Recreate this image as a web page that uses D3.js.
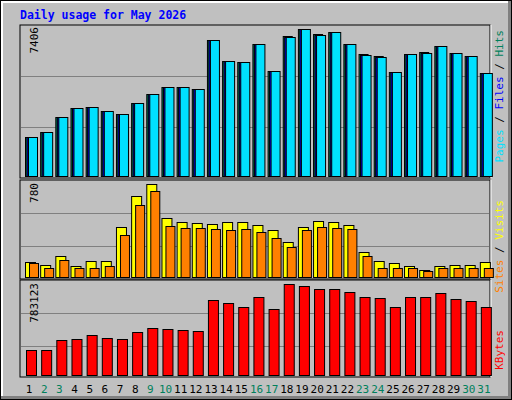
<!DOCTYPE html>
<html><head><meta charset="utf-8">
<script src="https://cdn.jsdelivr.net/npm/d3@7"></script>
<style>body{margin:0;background:#fff}</style></head>
<body><svg id="c" width="512" height="400"></svg>
<script>
const days = d3.range(1,32);
const weekend = [2,3,9,10,16,17,23,24,30,31];
const hits  = [2000,2229,3000,3460,3519,3310,3133,3686,4160,4491,4491,4390,6853,5797,5747,6652,5295,7040,7406,7150,7255,6652,6140,6040,5245,6149,6240,6551,6200,6049,5194];
const files = [1990,2229,2990,3445,3519,3300,3133,3686,4150,4491,4491,4390,6853,5797,5747,6652,5295,7025,7406,7130,7255,6652,6120,6020,5245,6149,6220,6551,6200,6049,5194];
const pages = [1977,2229,2983,3435,3519,3284,3133,3686,4139,4491,4491,4390,6853,5797,5747,6652,5295,7004,7406,7104,7255,6652,6099,5999,5245,6149,6200,6551,6200,6049,5194];
const sites = [130,104,180,96,138,138,425,679,780,501,467,459,451,467,467,442,400,298,425,476,467,442,214,138,121,96,70,96,104,104,130];
const visits= [121,79,146,79,87,96,358,603,721,434,417,417,408,400,408,383,332,256,400,425,417,408,180,87,87,79,62,79,79,87,87];
const kbytes= [217220,217220,302963,311538,345836,320113,311538,371560,405857,397283,388708,380134,645940,620216,585918,671663,568769,783123,765975,740252,740252,714529,671663,663088,585918,671663,671663,705955,654514,637365,585918];
const maxHits = 7406, maxSites = 780, maxK = 783123;

const svg = d3.select('#c');
const mono = "'DejaVu Sans Mono', monospace";
// frame
svg.append('rect').attr('x',0).attr('y',0).attr('width',512).attr('height',400).attr('fill','#000');
svg.append('rect').attr('x',1).attr('y',1).attr('width',510).attr('height',398).attr('fill','#808080');
svg.append('rect').attr('x',1).attr('y',1).attr('width',507).attr('height',395).attr('fill','#fff');
svg.append('rect').attr('x',3).attr('y',3).attr('width',505).attr('height',393).attr('fill','#c0c0c0');

svg.append('text').attr('x',20).attr('y',19).attr('fill','#0000ff').attr('font-family',mono)
  .attr('font-weight','bold').attr('font-size','11.5px').text('Daily usage for May 2026');

const x = d3.scaleBand().domain(days).range([20,490]).paddingInner(0);

function panel(y0,y1,max){
  const y = d3.scaleLinear().domain([0,max]).range([y1,y0+4]);
  svg.append('rect').attr('x',20).attr('y',y0).attr('width',470).attr('height',y1-y0+1)
    .attr('fill','#c0c0c0').attr('stroke','#000');
  svg.append('line').attr('x1',491).attr('x2',491).attr('y1',y0).attr('y2',y1+1).attr('stroke','#fff');
  [1/3,2/3].forEach(f=>{
    const yy = Math.round(y1-(y1-y0-4)*f*1.0)+0.5;
  });
  return y;
}
function grid(y0,y1,ys){
  ys.forEach(v=>svg.append('line').attr('x1',21).attr('x2',489).attr('y1',v).attr('y2',v).attr('stroke','#808080'));
}
function vlabel(xp,yEnd,parts){
  const t = svg.append('text').attr('transform',`translate(${xp},${yEnd}) rotate(-90)`)
    .attr('text-anchor','end').attr('font-family',mono).attr('font-size','11px');
  parts.forEach(p=>t.append('tspan').attr('fill',p[1]).text(p[0]));
}

// top panel
const yT = panel(25,177,maxHits);
grid(25,177,[76.5,127.5]);
const bw = 9;
function bars(data,y,off,w,fill){
  svg.append('g').selectAll('rect').data(data).join('rect')
    .attr('x',(d,i)=>x(days[i])+off+0.5).attr('y',d=>Math.round(y(d))+0.5)
    .attr('width',w).attr('height',d=>y(0)-Math.round(y(d))-1)
    .attr('fill',fill).attr('stroke','#000');
}
bars(hits,yT,5,bw,'#00805c');
bars(files,yT,6.5,bw,'#0000ff');
bars(pages,yT,8,bw,'#00e0ff');
vlabel(38,27,[[String(maxHits),'#000']]);
vlabel(503,30,[['Pages','#00e0ff'],[' / ','#000'],['Files','#0000ff'],[' / ','#000'],['Hits','#00805c']]);

// middle
const yM = panel(180,278,maxSites);
grid(180,278,[213.5,246.5]);
bars(sites,yM,5,10,'#ffff00');
bars(visits,yM,9,9,'#ff8000');
vlabel(38,183,[[String(maxSites),'#000']]);
vlabel(503,200,[['Sites','#ff8000'],[' / ','#000'],['Visits','#ffff00']]);

// bottom
const yB = panel(280,376,maxK);
grid(280,376,[313.5,346.5]);
bars(kbytes,yB,6,10,'#ff0000');
vlabel(38,283,[[String(maxK),'#000']]);
vlabel(503,330,[['KBytes','#ff0000']]);

// day labels
svg.append('g').selectAll('text').data(days).join('text')
  .attr('x',d=>x(d)+x.bandwidth()/2+1.5).attr('y',393).attr('text-anchor','middle')
  .attr('font-family',mono).attr('font-size','11px')
  .attr('fill',d=>weekend.includes(d)?'#00805c':'#000').text(d=>d);
</script></body></html>
